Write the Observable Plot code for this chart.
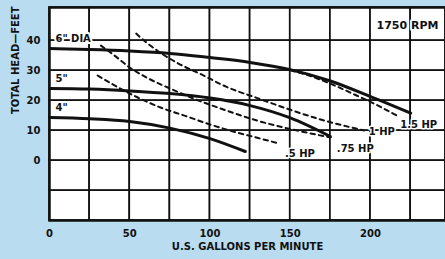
<!DOCTYPE html>
<html>
<head>
<meta charset="utf-8">
<script src="https://cdn.jsdelivr.net/npm/d3@7"></script>
<script src="https://cdn.jsdelivr.net/npm/@observablehq/plot@0.6"></script>
<style>
  html, body { margin: 0; padding: 0; background: #badcf0; }
  #chart { width: 445px; height: 259px; overflow: hidden; }
</style>
</head>
<body>
<div id="chart"></div>
<script>
// Impeller diameter curves (solid)
const gpm6 = [0, 25, 50, 75, 100, 125, 150, 175, 200, 225];
const head6 = [37.3, 37.0, 36.5, 35.7, 34.3, 32.7, 30.3, 26.5, 21.3, 15.8];
const gpm5 = [0, 25, 50, 75, 100, 125, 150, 175];
const head5 = [24.0, 23.8, 23.2, 22.3, 20.8, 18.3, 14.2, 8.0];
const gpm4 = [0, 25, 50, 75, 100, 122];
const head4 = [14.3, 13.9, 13.0, 10.8, 7.3, 3.0];

// Horsepower curves (dashed)
const gpmHp15 = [145, 160, 175, 190, 205, 217];
const headHp15 = [30.7, 28.6, 25.6, 22.0, 18.2, 14.8];
const gpmHp1 = [54, 60, 70, 80, 95, 110, 130, 150, 170, 196];
const headHp1 = [42.3, 39.5, 35.6, 32.4, 28.6, 24.6, 20.7, 16.9, 13.5, 10.0];
const gpmHp075 = [32, 40, 50, 60, 75, 90, 110, 130, 150, 175];
const headHp075 = [38.3, 35.2, 31.0, 27.8, 24.0, 20.6, 16.7, 13.2, 10.5, 7.7];
const gpmHp05 = [30, 40, 55, 70, 85, 100, 115, 130, 142];
const headHp05 = [28.3, 25.2, 21.0, 17.5, 14.8, 12.0, 9.6, 7.5, 5.8];

// Axis ticks / grid edges
const xTicks = [0, 50, 100, 150, 200];
const yTicks = [0, 10, 20, 30, 40];
const xEdges = [0, 25, 50, 75, 100, 125, 150, 175, 200, 225, 246.7];
const yEdges = [-20, -10, 0, 10, 20, 30, 40, 51];

// Curve labels (data units)
const diaLabels = ['6" DIA', '5"', '4"'];
const diaLabelX = [3.7, 3.7, 3.7];
const diaLabelY = [40.7, 27.3, 17.7];
const hpLabels = ["1.5 HP", "1 HP", ".75 HP", ".5 HP"];
const hpLabelX = [230, 207, 190.5, 156];
const hpLabelY = [12, 9.7, 4, 2.3];
const rpmLabel = "1750 RPM";

const xTitle = "U.S. GALLONS PER MINUTE";
const yTitle = "TOTAL HEAD\u2014FEET";

const toPts = (xs, ys) => xs.map((x, i) => ({x, y: ys[i]}));
const solids = [toPts(gpm6, head6), toPts(gpm5, head5), toPts(gpm4, head4)];
const dashes = [toPts(gpmHp15, headHp15), toPts(gpmHp1, headHp1), toPts(gpmHp075, headHp075), toPts(gpmHp05, headHp05)];
const diaLab = diaLabels.map((t, i) => ({t, x: diaLabelX[i], y: diaLabelY[i]}));
const hpLab = hpLabels.map((t, i) => ({t, x: hpLabelX[i], y: hpLabelY[i]}));
// grid cells built from the edges
const cells = [];
for (let i = 0; i < xEdges.length - 1; i++)
  for (let j = 0; j < yEdges.length - 1; j++)
    cells.push({x1: xEdges[i], x2: xEdges[i + 1], y1: yEdges[j], y2: yEdges[j + 1]});

const ink = "#111";
const chart = Plot.plot({
  width: 445,
  height: 259,
  marginLeft: 49,
  marginRight: 0,
  marginTop: 7,
  marginBottom: 39,
  x: {domain: [xEdges[0], xEdges[xEdges.length - 1]]},
  y: {domain: [yEdges[0], yEdges[yEdges.length - 1]]},
  style: {background: "transparent", fontFamily: "DejaVu Sans", fontWeight: "bold", fontSize: "10px", color: ink},
  marks: [
    Plot.rect(cells, {x1: "x1", x2: "x2", y1: "y1", y2: "y2", fill: "white", stroke: ink, strokeWidth: 1.7, inset: 0}),
    ...dashes.map(d => Plot.line(d, {x: "x", y: "y", stroke: ink, strokeWidth: 2, strokeDasharray: "4.5,4", curve: "monotone-x"})),
    ...solids.map(d => Plot.line(d, {x: "x", y: "y", stroke: ink, strokeWidth: 3, curve: "monotone-x"})),
    Plot.frame({stroke: ink, strokeWidth: 2.5}),
    Plot.text(diaLab, {x: "x", y: "y", text: "t", textAnchor: "start", fill: ink, stroke: "white", strokeWidth: 4, fontSize: 10, fontWeight: "bold"}),
    Plot.text(hpLab, {x: "x", y: "y", text: "t", fill: ink, stroke: "white", strokeWidth: 3, fontSize: 10, fontWeight: "bold"}),
    Plot.text([rpmLabel], {x: 223, y: 45, text: d => d, fill: ink, stroke: "white", strokeWidth: 4, fontSize: 11, fontWeight: "bold"}),
    Plot.axisX(xTicks, {tickSize: 0, tickPadding: 9, fontSize: 10, fontWeight: "bold", label: null}),
    Plot.axisY(yTicks, {tickSize: 0, tickPadding: 9, fontSize: 10, fontWeight: "bold", label: null}),
    Plot.text([xTitle], {frameAnchor: "bottom", dy: 29, text: d => d, fontSize: 10, fontWeight: "bold", fill: ink}),
    Plot.text([yTitle], {frameAnchor: "left", dx: -34, rotate: -90, text: d => d, fontSize: 10, fontWeight: "bold", fill: ink})
  ]
});
document.getElementById("chart").appendChild(chart);
</script>
</body>
</html>
